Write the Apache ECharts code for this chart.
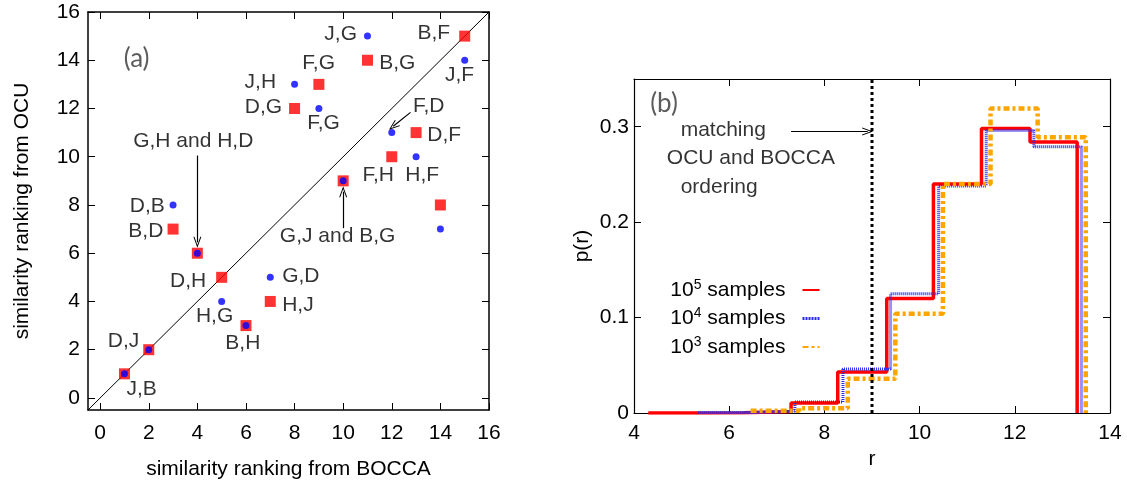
<!DOCTYPE html>
<html><head><meta charset="utf-8">
<script src="https://cdn.jsdelivr.net/npm/echarts@6/dist/echarts.min.js"></script>
<style>html,body{margin:0;padding:0;background:#fff}#c{width:1127px;height:489px}</style>
</head><body><div id="c"></div>
<script>
const FONT = '"Liberation Sans", Arial, Helvetica, sans-serif';
const FONT_TAG = 'Lato, "Open Sans", sans-serif';
const FS = 21;

// ---------- Panel (a) data ----------
const boccaRank     = [1, 2, 3, 4, 5, 6, 7, 8, 9, 10, 11, 12, 13, 14, 15];
const ocuRankRed    = [1, 2, 7, 6, 5, 3, 4, 12, 13, 9, 14, 10, 11, 8, 15];
const ocuRankBlue   = [1, 2, 8, 6, 4, 3, 5, 13, 12, 9, 15, 11, 10, 7, 14];
const ticksA        = [0, 2, 4, 6, 8, 10, 12, 14, 16];
const diagonalA     = [-0.5, 16];
// pair annotations: [text, x, y, align]
const pairLabelsA = [
  ['J,G', 10.57, 15.1, 'right'],
  ['B,G', 11.48, 13.88, 'left'],
  ['F,G', 8.99, 13.88, 'center'],
  ['J,H', 7.24, 13.08, 'right'],
  ['D,G', 7.49, 12.06, 'right'],
  ['F,G', 9.19, 11.4, 'center'],
  ['G,H and H,D', 3.83, 10.64, 'center'],
  ['F,D', 13.52, 12.09, 'center'],
  ['D,F', 13.46, 10.91, 'left'],
  ['F,H', 11.44, 9.22, 'center'],
  ['H,F', 13.25, 9.22, 'center'],
  ['J,F', 14.79, 13.4, 'center'],
  ['B,F', 13.73, 15.13, 'center'],
  ['G,J and B,G', 9.77, 6.69, 'center'],
  ['D,B', 2.66, 7.93, 'right'],
  ['B,D', 2.6, 6.9, 'right'],
  ['D,H', 3.62, 4.83, 'center'],
  ['H,G', 4.71, 3.37, 'center'],
  ['B,H', 5.87, 2.27, 'center'],
  ['G,D', 7.49, 5.03, 'left'],
  ['H,J', 7.49, 3.86, 'left'],
  ['D,J', 0.96, 2.34, 'center'],
  ['J,B', 1.71, 0.36, 'center']
];
const arrowsA = [
  [[4, 10.05], [4, 6.45]],
  [[10, 7.04], [10, 8.55]],
  [[12.77, 11.84], [12.06, 11.26]]
];
const tagA = ['(a)', 1.5, 14.07];

// ---------- Panel (b) data ----------
const redEdges    = [4.3, 5.3, 6.3, 7.3, 8.28, 9.31, 10.29, 11.3, 12.32, 13.31];
const redP        = [0, 0.0003, 0.0015, 0.0105, 0.043, 0.12, 0.24, 0.298, 0.284];
const blueEdges   = [5.35, 6.35, 7.38, 8.39, 9.39, 10.4, 11.4, 12.4, 13.4];
const blueP       = [0.0004, 0.0018, 0.0115, 0.046, 0.125, 0.238, 0.296, 0.279];
const orangeEdges = [6.45, 7.47, 8.49, 9.49, 10.49, 11.49, 12.48, 13.49];
const orangeP     = [0.0024, 0.005, 0.036, 0.104, 0.24, 0.319, 0.289];
const seriesNamesB = ['10^5 samples', '10^4 samples', '10^3 samples'];
const matchR = 9;
const ticksBx = [4, 6, 8, 10, 12, 14];
const ticksBy = [0, 0.1, 0.2, 0.3];
const textsB = [
  ['matching', 4.98, 0.296, 'left'],
  ['OCU and BOCCA', 4.69, 0.267, 'left'],
  ['ordering', 4.98, 0.237, 'left']
];
const arrowB = [[7.3, 0.295], [8.91, 0.295]];
const tagB = ['(b)', 4.63, 0.324];

function stepPts(edges, vals) {
  const pts = [];
  for (let i = 0; i < vals.length; i++) {
    pts.push([edges[i], vals[i]]);
    pts.push([edges[i + 1], vals[i]]);
  }
  pts.push([edges[edges.length - 1], 0]);
  return pts;
}

const ARROW = 'path://M5,0 L10,12 L8.7,12 L5,3 L1.3,12 L0,12 Z';
const axisLineStyle = {color: '#000', width: 1.5};
const labelStyle = {color: '#000', fontSize: FS, fontFamily: FONT};
const annoLabel = {show: true, position: 'inside', formatter: '{b}', color: '#000', fontSize: FS, fontFamily: FONT,
                   verticalAlign: 'middle', textBorderWidth: 0, textBorderColor: 'transparent'};
const BLUE = '#2a2aee';

function mkAxis(grid, pos, min, max, ticks, opts) {
  const showLabel = pos === 'bottom' || pos === 'left';
  return Object.assign({
    gridIndex: grid, type: 'value', position: pos, min: min, max: max,
    axisLine: {show: true, onZero: false, lineStyle: axisLineStyle},
    axisTick: {show: true, inside: true, length: 7, customValues: ticks, lineStyle: {color: '#000', width: 1}},
    axisLabel: showLabel ? Object.assign({customValues: ticks}, labelStyle) : {show: false},
    splitLine: {show: false}
  }, opts || {});
}

const chart = echarts.init(document.getElementById('c'), null, {renderer: 'canvas'});
chart.setOption({
  animation: false,
  backgroundColor: '#fff',
  grid: [
    {left: 88, top: 12, width: 401, height: 398},
    {left: 634, top: 79, width: 476, height: 334}
  ],
  xAxis: [
    mkAxis(0, 'bottom', -0.5, 16, ticksA, {
      name: 'similarity ranking from BOCCA', nameLocation: 'middle', nameGap: 49,
      nameTextStyle: labelStyle, axisLabel: Object.assign({customValues: ticksA, margin: 13}, labelStyle)
    }),
    mkAxis(0, 'top', -0.5, 16, ticksA),
    mkAxis(1, 'bottom', 4, 14, ticksBx, {
      name: 'r', nameLocation: 'middle', nameGap: 30, nameTextStyle: labelStyle,
      axisLabel: Object.assign({customValues: ticksBx, margin: 10}, labelStyle),
      axisLine: {show: true, onZero: false, lineStyle: {color: '#000', width: 1.2}}
    }),
    mkAxis(1, 'top', 4, 14, ticksBx, {axisLine: {show: true, onZero: false, lineStyle: {color: '#000', width: 1.2}}})
  ],
  yAxis: [
    mkAxis(0, 'left', -0.5, 16, ticksA, {
      name: 'similarity ranking from OCU', nameLocation: 'middle', nameGap: 55,
      nameTextStyle: labelStyle, axisLabel: Object.assign({customValues: ticksA, margin: 8}, labelStyle)
    }),
    mkAxis(0, 'right', -0.5, 16, ticksA),
    mkAxis(1, 'left', 0, 0.35, ticksBy, {
      name: 'p(r)', nameLocation: 'middle', nameGap: 41, nameTextStyle: labelStyle,
      axisLabel: Object.assign({customValues: ticksBy, margin: 5}, labelStyle),
      axisLine: {show: true, onZero: false, lineStyle: {color: '#000', width: 1.2}}
    }),
    mkAxis(1, 'right', 0, 0.35, ticksBy, {axisLine: {show: true, onZero: false, lineStyle: {color: '#000', width: 1.2}}})
  ],
  legend: {
    show: true, orient: 'vertical', right: 301, top: 273, align: 'right',
    selectedMode: false, itemWidth: 17, itemHeight: 10, itemGap: 6,
    itemStyle: {opacity: 0},
    data: [
      {name: seriesNamesB[0]},
      {name: seriesNamesB[1], lineStyle: {color: BLUE, width: 3, type: [2, 1]}},
      {name: seriesNamesB[2]}
    ],
    formatter: n => n.replace(/^10\^(\d)(.*)$/, '{n|10}{sup|$1}{n|$2}'),
    textStyle: {
      color: '#000', fontSize: FS, fontFamily: FONT, padding: [0, 12, 0, 0],
      rich: {
        n: {fontSize: FS, fontFamily: FONT, color: '#000', lineHeight: 24},
        sup: {fontSize: 14, fontFamily: FONT, color: '#000', lineHeight: 14, verticalAlign: 'top'}
      }
    }
  },
  series: [
    {
      type: 'line', xAxisIndex: 0, yAxisIndex: 0, silent: true, symbol: 'none', z: 1,
      data: [[diagonalA[0], diagonalA[0]], [diagonalA[1], diagonalA[1]]],
      lineStyle: {color: '#000', width: 1},
      markLine: {
        silent: true, animation: false, symbol: ['none', ARROW], symbolSize: [8, 11],
        label: {show: false}, lineStyle: {color: '#000', width: 1.2, type: 'solid'},
        data: arrowsA.map(a => [{coord: a[0]}, {coord: a[1]}])
      }
    },
    {
      type: 'scatter', xAxisIndex: 0, yAxisIndex: 0, silent: true, z: 2,
      symbol: 'rect', symbolSize: 11, itemStyle: {color: '#ff0000'},
      data: boccaRank.map((x, i) => [x, ocuRankRed[i]])
    },
    {
      type: 'scatter', xAxisIndex: 0, yAxisIndex: 0, silent: true, z: 3,
      symbol: 'circle', symbolSize: 7, itemStyle: {color: '#0000ff'},
      data: boccaRank.map((x, i) => [x, ocuRankBlue[i]])
    },
    {
      type: 'scatter', xAxisIndex: 0, yAxisIndex: 0, silent: true, z: 4, symbolSize: 0,
      itemStyle: {color: '#000'},
      label: annoLabel,
      data: pairLabelsA.map(l => ({name: l[0], value: [l[1], l[2]], label: {align: l[3]}}))
    },
    {
      type: 'scatter', xAxisIndex: 0, yAxisIndex: 0, silent: true, z: 4, symbolSize: 0,
      itemStyle: {color: '#000'},
      label: Object.assign({}, annoLabel, {color: '#333', fontSize: 26, fontFamily: FONT_TAG, align: 'center'}),
      data: [{name: tagA[0], value: [tagA[1], tagA[2]]}]
    },
    {
      name: seriesNamesB[0], type: 'line', xAxisIndex: 2, yAxisIndex: 2, silent: true, symbol: 'none', z: 2,
      lineStyle: {color: '#ff0000', width: 3.5}, itemStyle: {color: '#ff0000'},
      data: stepPts(redEdges, redP)
    },
    {
      name: seriesNamesB[1], type: 'line', xAxisIndex: 2, yAxisIndex: 2, silent: true, symbol: 'none', z: 3,
      lineStyle: {color: BLUE, width: 3, type: [1, 1]}, itemStyle: {color: BLUE},
      data: stepPts(blueEdges, blueP)
    },
    {
      name: seriesNamesB[2], type: 'line', xAxisIndex: 2, yAxisIndex: 2, silent: true, symbol: 'none', z: 4,
      lineStyle: {color: '#ffa500', width: 4.5, type: [6, 3, 3, 3]}, itemStyle: {color: '#ffa500'},
      data: stepPts(orangeEdges, orangeP)
    },
    {
      type: 'line', xAxisIndex: 2, yAxisIndex: 2, silent: true, symbol: 'none', z: 5,
      lineStyle: {color: '#000', width: 3, type: [3, 3]},
      data: [[matchR, 0], [matchR, 0.35]],
      markLine: {
        silent: true, animation: false, symbol: ['none', ARROW], symbolSize: [8, 11],
        label: {show: false}, lineStyle: {color: '#000', width: 1.2, type: 'solid'},
        data: [[{coord: arrowB[0]}, {coord: arrowB[1]}]]
      }
    },
    {
      type: 'scatter', xAxisIndex: 2, yAxisIndex: 2, silent: true, z: 6, symbolSize: 0,
      itemStyle: {color: '#000'},
      label: annoLabel,
      data: textsB.map(l => ({name: l[0], value: [l[1], l[2]], label: {align: l[3]}}))
    },
    {
      type: 'scatter', xAxisIndex: 2, yAxisIndex: 2, silent: true, z: 6, symbolSize: 0,
      itemStyle: {color: '#000'},
      label: Object.assign({}, annoLabel, {color: '#333', fontSize: 26, fontFamily: FONT_TAG, align: 'center'}),
      data: [{name: tagB[0], value: [tagB[1], tagB[2]]}]
    }
  ]
});
</script>
</body></html>
